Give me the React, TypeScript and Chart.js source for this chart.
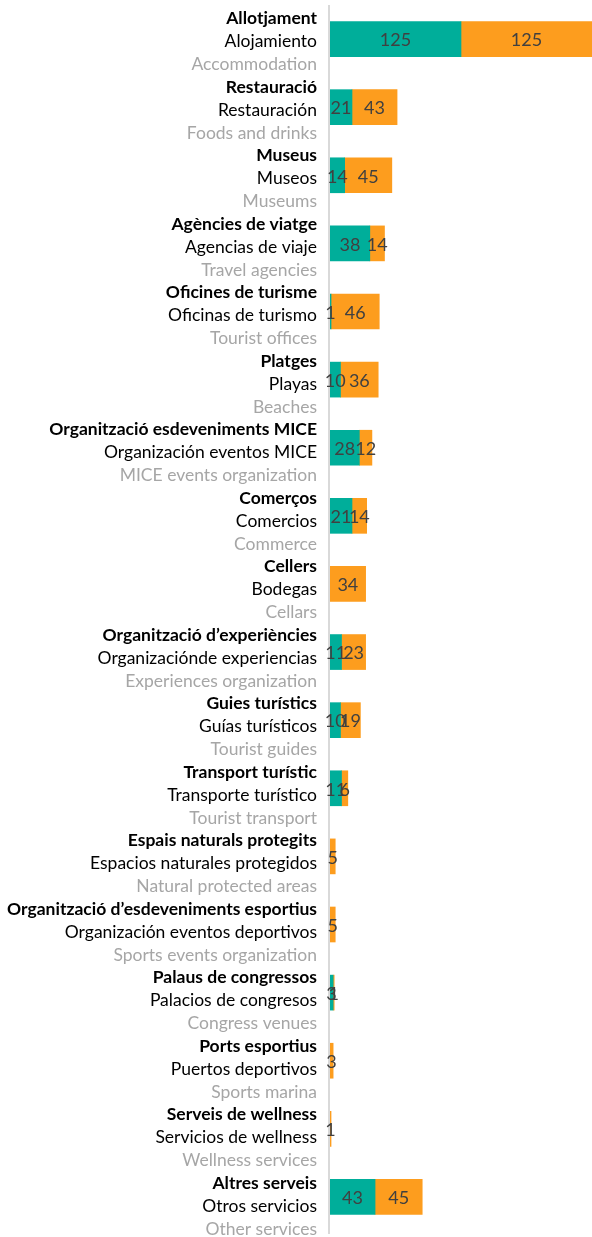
import React, { useEffect, useRef } from "react";
import { Chart, registerables } from "chart.js";

Chart.register(...registerables);

const categoriesCa = [
  "Allotjament",
  "Restauració",
  "Museus",
  "Agències de viatge",
  "Oficines de turisme",
  "Platges",
  "Organització esdeveniments MICE",
  "Comerços",
  "Cellers",
  "Organització d’experiències",
  "Guies turístics",
  "Transport turístic",
  "Espais naturals protegits",
  "Organització d’esdeveniments esportius",
  "Palaus de congressos",
  "Ports esportius",
  "Serveis de wellness",
  "Altres serveis",
];

const categoriesEs = [
  "Alojamiento",
  "Restauración",
  "Museos",
  "Agencias de viaje",
  "Oficinas de turismo",
  "Playas",
  "Organización eventos MICE",
  "Comercios",
  "Bodegas",
  "Organizaciónde experiencias",
  "Guías turísticos",
  "Transporte turístico",
  "Espacios naturales protegidos",
  "Organización eventos deportivos",
  "Palacios de congresos",
  "Puertos deportivos",
  "Servicios de wellness",
  "Otros servicios",
];

const categoriesEn = [
  "Accommodation",
  "Foods and drinks",
  "Museums",
  "Travel agencies",
  "Tourist offices",
  "Beaches",
  "MICE events organization",
  "Commerce",
  "Cellars",
  "Experiences organization",
  "Tourist guides",
  "Tourist transport",
  "Natural protected areas",
  "Sports events organization",
  "Congress venues",
  "Sports marina",
  "Wellness services",
  "Other services",
];

const seriesTeal: (number | null)[] = [125, 21, 14, 38, 1, 10, 28, 21, null, 11, 10, 11, null, null, 3, null, null, 43];
const seriesOrange: (number | null)[] = [125, 43, 45, 14, 46, 36, 12, 14, 34, 23, 19, 6, 5, 5, 1, 3, 1, 45];

const xMax = 250;

const labelFont = "Lato, 'Open Sans', sans-serif";

const labelsPlugin = {
  id: "customLabels",
  afterDraw(chart: any) {
    const ctx = chart.ctx as CanvasRenderingContext2D;
    const area = chart.chartArea;
    const yScale = chart.scales.y;
    ctx.save();
    // axis line
    ctx.strokeStyle = "#d9d9d9";
    ctx.lineWidth = 2;
    ctx.beginPath();
    ctx.moveTo(area.left - 1, area.top);
    ctx.lineTo(area.left - 1, area.bottom + 3);
    ctx.stroke();

    // category labels
    ctx.textAlign = "right";
    ctx.textBaseline = "middle";
    const xText = area.left - 13;
    categoriesCa.forEach((_, i) => {
      const y = yScale.getPixelForValue(i) + 2.5 + i * 0.4;
      ctx.font = `bold 17.5px ${labelFont}`;
      ctx.fillStyle = "#000000";
      ctx.fillText(categoriesCa[i], xText, y - 23);
      ctx.font = `17.5px ${labelFont}`;
      ctx.fillStyle = "#000000";
      ctx.fillText(categoriesEs[i], xText, y);
      ctx.fillStyle = "#a6a6a6";
      ctx.fillText(categoriesEn[i], xText, y + 23);
    });

    // value labels
    ctx.textAlign = "center";
    ctx.font = `18px ${labelFont}`;
    ctx.fillStyle = "#404040";
    chart.data.datasets.forEach((ds: any, di: number) => {
      const meta = chart.getDatasetMeta(di);
      meta.data.forEach((el: any, i: number) => {
        const v = ds.data[i];
        if (v === null || v === undefined) return;
        const cx = (el.x + el.base) / 2;
        ctx.fillText(String(v), cx, el.y + 1.5);
      });
    });
    ctx.restore();
  },
};

export default function App() {
  const canvasRef = useRef<HTMLCanvasElement | null>(null);

  useEffect(() => {
    document.body.style.margin = "0";
    const canvas = canvasRef.current;
    if (!canvas) return;
    const chart = new Chart(canvas, {
      type: "bar",
      data: {
        labels: categoriesEs,
        datasets: [
          {
            label: "A",
            data: seriesTeal,
            backgroundColor: "#00ae9a",
            barThickness: 35,
          },
          {
            label: "B",
            data: seriesOrange,
            backgroundColor: "#fd9d1e",
            barThickness: 35,
          },
        ],
      },
      options: {
        indexAxis: "y",
        responsive: false,
        animation: false,
        layout: { padding: { left: 330, top: 5, bottom: 6, right: 0 } },
        scales: {
          x: { stacked: true, min: 0, max: xMax, display: false },
          y: { stacked: true, display: false },
        },
        plugins: {
          legend: { display: false },
          tooltip: { enabled: false },
        },
      },
      plugins: [labelsPlugin],
    });
    return () => chart.destroy();
  }, []);

  return (
    <div style={{ width: 592, height: 1237 }}>
      <canvas ref={canvasRef} width={592} height={1237} style={{ display: "block" }} />
    </div>
  );
}
